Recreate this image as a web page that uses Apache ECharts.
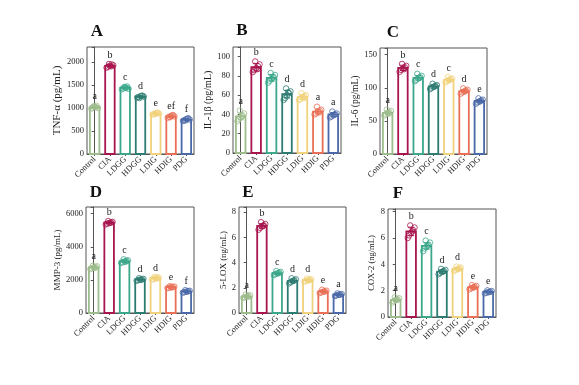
<!DOCTYPE html>
<html><head><meta charset="utf-8">
<script src="https://cdn.jsdelivr.net/npm/echarts@6/dist/echarts.min.js"></script>
<style>html,body{margin:0;padding:0;background:#fff}#c{width:579px;height:385px}</style>
</head><body><div id="c"></div>
<script>
const categories = ['Control','CIA','LDGG','HDGG','LDIG','HDIG','PDG'];
const groupColors = ['#9dbd8c','#a8154f','#3ba78b','#2d7c72','#f1d27c','#e96f56','#4b69a8'];

// A: TNF-alpha
const tnfMean = [1020,1920,1440,1250,880,820,750];
const tnfSd = [30,30,25,20,20,25,25];
const tnfPoints = [
 [990,1010,1030,1050,1000,1040,1020],
 [1880,1900,1920,1950,1930,1960,1910],
 [1410,1430,1450,1470,1420,1460,1440],
 [1230,1240,1260,1270,1250,1220,1265],
 [860,870,890,900,880,870,895],
 [790,810,830,850,820,800,835],
 [720,740,760,780,750,730,765]];
const tnfLetters = ['a','b','c','d','e','ef','f'];

// B: IL-1beta
const il1Mean = [38,89,78,61,58,43,40];
const il1Sd = [3.5,4,3.5,4,2.5,2.5,2];
const il1Points = [
 [33,35,37,39,41,44,38],
 [84,86,88,90,92,95,87],
 [73,75,77,79,81,83,78],
 [55,57,60,62,64,67,63],
 [55,56,58,59,60,62,57],
 [40,41,43,44,45,48,42],
 [37,38,39,40,41,43,40]];
const il1Letters = ['a','b','c','d','d','a','a'];

// C: IL-6
const il6Mean = [62,130,115,102,112,95,80];
const il6Sd = [3,4,3.5,2.5,2.5,2.5,2.5];
const il6Points = [
 [58,60,62,63,65,67,61],
 [124,127,129,131,133,136,128],
 [110,112,114,116,118,121,115],
 [98,100,101,103,104,106,102],
 [108,110,111,113,114,116,112],
 [91,93,94,96,97,99,95],
 [76,78,79,81,82,84,80]];
const il6Letters = ['a','b','c','d','c','d','e'];

// D: MMP-3
const mmpMean = [2750,5450,3120,2020,2100,1560,1300];
const mmpSd = [70,65,75,50,55,45,50];
const mmpPoints = [
 [2650,2700,2750,2780,2820,2850,2720],
 [5350,5400,5430,5470,5500,5550,5450],
 [3020,3070,3110,3150,3180,3240,3100],
 [1950,1980,2010,2040,2060,2100,2000],
 [2020,2060,2090,2120,2150,2180,2080],
 [1500,1530,1550,1570,1600,1620,1550],
 [1230,1260,1290,1320,1340,1380,1300]];
const mmpLetters = ['a','b','c','d','d','e','f'];

// E: 5-LOX
const loxMean = [1.3,6.9,3.15,2.55,2.6,1.7,1.45];
const loxSd = [0.08,0.18,0.1,0.13,0.08,0.08,0.07];
const loxPoints = [
 [1.2,1.25,1.3,1.35,1.4,1.45,1.28],
 [6.6,6.75,6.85,6.95,7.05,7.2,6.9],
 [3.0,3.08,3.14,3.2,3.26,3.32,3.15],
 [2.35,2.45,2.52,2.6,2.67,2.75,2.55],
 [2.48,2.54,2.58,2.63,2.68,2.72,2.6],
 [1.58,1.64,1.68,1.72,1.77,1.84,1.7],
 [1.35,1.4,1.44,1.47,1.5,1.55,1.45]];
const loxLetters = ['a','b','c','d','d','e','a'];

// F: COX-2
const coxMean = [1.3,6.5,5.4,3.45,3.65,2.25,1.9];
const coxSd = [0.13,0.32,0.25,0.13,0.1,0.11,0.07];
const coxPoints = [
 [1.1,1.2,1.28,1.35,1.42,1.5,1.3],
 [6.0,6.2,6.4,6.6,6.8,6.95,6.5],
 [5.0,5.2,5.35,5.5,5.65,5.8,5.4],
 [3.25,3.35,3.42,3.5,3.58,3.65,3.45],
 [3.5,3.58,3.63,3.7,3.76,3.82,3.65],
 [2.1,2.18,2.24,2.3,2.36,2.42,2.25],
 [1.8,1.85,1.88,1.93,1.97,2.02,1.9]];
const coxLetters = ['a','b','c','d','d','e','e'];

const panelTitles = ['A','B','C','D','E','F'];
const yNames = ['TNF-α (pg/mL)','IL-1β (pg/mL)','IL-6 (pg/mL)','MMP-3 (pg/mL)','5-LOX (ng/mL)','COX-2 (ng/mL)'];
const yMaxes = [2330,110,160,6400,8.4,8.2];
const yIntervals = [500,20,50,2000,2,2];

const panels = [
 {mean:tnfMean, sd:tnfSd, pts:tnfPoints, letters:tnfLetters},
 {mean:il1Mean, sd:il1Sd, pts:il1Points, letters:il1Letters},
 {mean:il6Mean, sd:il6Sd, pts:il6Points, letters:il6Letters},
 {mean:mmpMean, sd:mmpSd, pts:mmpPoints, letters:mmpLetters},
 {mean:loxMean, sd:loxSd, pts:loxPoints, letters:loxLetters},
 {mean:coxMean, sd:coxSd, pts:coxPoints, letters:coxLetters}];

// layout
const grids = [
 {left:87, top:47, width:107, height:107},
 {left:233, top:47, width:108, height:106},
 {left:380, top:48, width:107, height:106},
 {left:86, top:207, width:108, height:106},
 {left:239, top:207, width:107, height:106},
 {left:388, top:209, width:108, height:108}];
const titlePos = [[97,32],[242,31],[393,33],[96,193],[248,193],[398,194]];
const nameGaps = [20,18,19,23,10,12];
const nameSizes = [11,10,9.5,9,9,8.5];
const jitter = [-0.22,-0.12,0.0,0.12,0.22,-0.06,0.08];

const FONT = 'Liberation Serif';
const opt = {animation:false, backgroundColor:'#fff', grid:[], xAxis:[], yAxis:[], series:[], graphic:[]};

panels.forEach((p, k) => {
  const g = grids[k];
  opt.grid.push(Object.assign({show:true, borderColor:'#555', borderWidth:1, backgroundColor:'transparent', containLabel:false}, g));
  opt.xAxis.push({type:'category', gridIndex:k, data:categories,
    axisLine:{lineStyle:{color:'#555', width:1}},
    axisTick:{show:true, alignWithLabel:true, length:2, lineStyle:{color:'#555'}},
    axisLabel:{rotate:45, fontFamily:FONT, fontSize:8.5, color:'#222', margin:4, interval:0}});
  opt.xAxis.push({type:'value', gridIndex:k, min:-0.5, max:6.5, show:false});
  const iv = yIntervals[k];
  opt.yAxis.push({type:'value', gridIndex:k, min:0, max:yMaxes[k], interval:iv,
    name:yNames[k], nameLocation:'middle', nameGap:nameGaps[k],
    nameTextStyle:{fontFamily:FONT, fontSize:nameSizes[k], color:'#222'},
    axisLine:{show:true, lineStyle:{color:'#555', width:1}},
    axisTick:{show:true, length:3, lineStyle:{color:'#555'}},
    splitLine:{show:false},
    axisLabel:{fontFamily:FONT, fontSize:8.5, color:'#222', margin:3,
      formatter: v => (Math.abs(v/iv - Math.round(v/iv)) < 1e-6 ? String(v) : '')}});
  // bars + error bars + letters
  const letters = p.letters;
  opt.series.push({type:'custom', xAxisIndex:2*k, yAxisIndex:k, z:4, clip:false,
    data: p.mean.map((v,i) => [i, v, p.sd[i], Math.max.apply(null, p.pts[i])]),
    renderItem: (params, api) => {
      const i = api.value(0), m = api.value(1), s = api.value(2), mx = api.value(3);
      const c = groupColors[i];
      const base = api.coord([i, 0]);
      const hi = api.coord([i, m]);
      const bw = api.size([1, 0])[0] * 0.62;
      const top = api.coord([i, m + s]);
      const bot = api.coord([i, m - s]);
      const peak = api.coord([i, Math.max(mx, m + s)]);
      const cw = 3;
      const ls = {stroke:c, lineWidth:1};
      return {type:'group', children:[
        {type:'rect', shape:{x:base[0]-bw/2, y:hi[1], width:bw, height:base[1]-hi[1]},
          style:{fill:'rgba(255,255,255,0)', stroke:c, lineWidth:1.8}},
        {type:'line', shape:{x1:top[0], y1:top[1], x2:bot[0], y2:bot[1]}, style:ls},
        {type:'line', shape:{x1:top[0]-cw, y1:top[1], x2:top[0]+cw, y2:top[1]}, style:ls},
        {type:'line', shape:{x1:bot[0]-cw, y1:bot[1], x2:bot[0]+cw, y2:bot[1]}, style:ls},
        {type:'text', style:{text:letters[params.dataIndex], x:peak[0], y:peak[1]-4,
          textAlign:'center', textVerticalAlign:'bottom', fontFamily:FONT, fontSize:10, fill:'#222'}}
      ]};
    }});
  // scatter points
  const sdata = [];
  p.pts.forEach((arr, i) => arr.forEach((v, j) => {
    sdata.push({value:[i + jitter[j % jitter.length], v], itemStyle:{borderColor:groupColors[i]}});
  }));
  opt.series.push({type:'scatter', xAxisIndex:2*k+1, yAxisIndex:k, symbol:'circle', symbolSize:5.5, z:5,
    itemStyle:{color:'rgba(255,255,255,0)', borderWidth:1}, data:sdata});
  opt.graphic.push({type:'text', x:titlePos[k][0], y:titlePos[k][1],
    style:{text:panelTitles[k], fontFamily:FONT, fontWeight:'bold', fontSize:17, fill:'#111',
      textAlign:'center', textVerticalAlign:'middle'}});
});

const chart = echarts.init(document.getElementById('c'), null, {renderer:'canvas'});
chart.setOption(opt);
</script>
</body></html>
